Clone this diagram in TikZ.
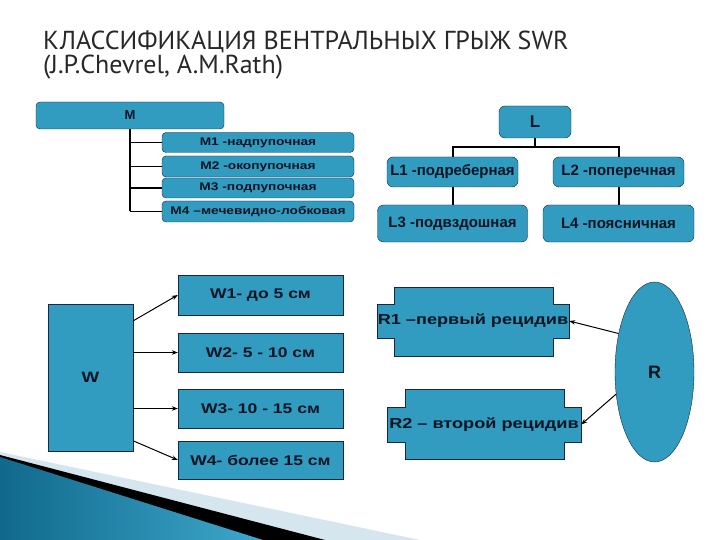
\documentclass[tikz,border=0pt]{standalone}
\usepackage{fontspec}
\setmainfont{Liberation Sans}
\newfontfamily\titlefont{PT Sans}
\newfontfamily\widefont{Liberation Sans}[FakeStretch=1.25]
\usetikzlibrary{shapes.geometric,arrows.meta}
\definecolor{boxblue}{RGB}{50,155,192}
\definecolor{boxline}{RGB}{20,40,70}
\definecolor{inktext}{RGB}{10,20,35}
\definecolor{titlegray}{RGB}{40,40,40}
\definecolor{swooshpale}{RGB}{214,230,238}
\definecolor{swooshdark}{RGB}{16,105,140}
\definecolor{swooshlight}{RGB}{62,168,204}

\begin{document}
\begin{tikzpicture}[x=1pt,y=-1pt,
      mbox/.style={draw=boxline, fill=boxblue, rounded corners=4pt, text=inktext, inner sep=0pt,
        font=\widefont\bfseries\fontsize{11}{11}\selectfont},
      lbox/.style={draw=boxline, fill=boxblue, rounded corners=6pt, text=inktext, inner sep=0pt,
        font=\bfseries\fontsize{15}{15}\selectfont},
      wbox/.style={draw=boxline, fill=boxblue, text=inktext, inner sep=0pt,
        minimum width=165pt, font=\widefont\bfseries\fontsize{14}{14}\selectfont},
      rshape/.style={draw=boxline, fill=boxblue},
      rlabel/.style={text=inktext, inner sep=0pt, font=\widefont\bfseries\fontsize{14.5}{14.5}\selectfont},
      tree/.style={line width=1.5pt, black},
      arr/.style={-{Stealth[length=6pt,width=4.5pt]}, line width=1pt, black}
    ]
    \useasboundingbox (0,0) rectangle (720,540);
    \fill[white] (0,0) rectangle (720,540);

    % slide decoration, lower left
    \fill[swooshpale] (0,452) -- (420,540) -- (0,540) -- cycle;
    \fill[black] (0,455) -- (325,540) -- (0,540) -- cycle;
    \shade[left color=swooshdark, right color=swooshlight] (0,457) -- (263,540) -- (0,540) -- cycle;

    % title
    \node[anchor=base west, inner sep=0pt, text=titlegray, font=\titlefont\fontsize{26}{26}\selectfont] (title1) at (43,50) {КЛАССИФИКАЦИЯ ВЕНТРАЛЬНЫХ ГРЫЖ SWR};
    \node[anchor=base west, inner sep=0pt, text=titlegray, font=\titlefont\fontsize{26}{26}\selectfont] (title2) at (43,74) {(J.P.Chevrel, A.M.Rath)};

    % M group
    \node[mbox, minimum width=188pt, minimum height=27pt, font=\bfseries\fontsize{13}{13}\selectfont] (M) at (130,115.5) {M};
    \node[mbox, minimum width=192pt, minimum height=20pt] (M1) at (258,142.5) {M1 -надпупочная};
    \node[mbox, minimum width=192pt, minimum height=21pt] (M2) at (258,166.5) {M2 -окопупочная};
    \node[mbox, minimum width=192pt, minimum height=20pt] (M3) at (258,188) {M3 -подпупочная};
    \node[mbox, minimum width=192pt, minimum height=21pt] (M4) at (258,211.5) {M4 –мечевидно-лобковая};

    \draw[tree] (M.south) -- (M.south |- M4.west);
    \draw[tree] (M.south |- M1.west) -- (M1.west);
    \draw[tree] (M.south |- M2.west) -- (M2.west);
    \draw[tree] (M.south |- M3.west) -- (M3.west);
    \draw[tree] (M.south |- M4.west) -- (M4.west);

    % L group
    \node[lbox, minimum width=72pt, minimum height=32pt, font=\bfseries\fontsize{17}{17}\selectfont] (L) at (535,122) {L};
    \node[lbox, minimum width=131pt, minimum height=30pt] (L1) at (452.5,172) {L1 -подреберная};
    \node[lbox, minimum width=131pt, minimum height=30pt] (L2) at (618.5,172) {L2 -поперечная};
    \node[lbox, minimum width=150pt, minimum height=37pt] (L3) at (452.5,223.5) {L3 -подвздошная};
    \node[lbox, minimum width=151pt, minimum height=37pt] (L4) at (618.5,223.5) {L4 -поясничная};

    \draw[tree, line width=2pt] (L.south) -- ++(0,9) -| (L1.north);
    \draw[tree, line width=2pt] (L.south) -- ++(0,9) -| (L2.north);
    \draw[tree, line width=2pt] (L1) -- (L3);
    \draw[tree, line width=2pt] (L2) -- (L4);

    % W group
    \node[wbox, minimum width=85pt, minimum height=147pt, font=\widefont\bfseries\fontsize{15}{15}\selectfont] (W) at (90.5,377.5) {W};
    \node[wbox, minimum height=40pt] (W1) at (260.5,295) {W1- до 5 см};
    \node[wbox, minimum height=39pt] (W2) at (260.5,352.5) {W2- 5 - 10 см};
    \node[wbox, minimum height=39pt] (W3) at (260.5,408.5) {W3- 10 - 15 см};
    \node[wbox, minimum height=38pt] (W4) at (260.5,460) {W4- более 15 см};

    \draw[arr] (W.53) -- (W1.west);
    \draw[arr] (W.east |- W2.west) -- (W2.west);
    \draw[arr] (W.east |- W3.west) -- (W3.west);
    \draw[arr] (W.-56) -- (W4.west);

    % R group
    \draw[rshape] (394,287) -- (553,287) -- (553,304) -- (569,304) -- (569,338) -- (553,338) -- (553,356)
      -- (394,356) -- (394,338) -- (377,338) -- (377,304) -- (394,304) -- cycle;
    \draw[rshape] (405,389) -- (564,389) -- (564,407) -- (581,407) -- (581,442) -- (564,442) -- (564,459)
      -- (405,459) -- (405,442) -- (387,442) -- (387,407) -- (405,407) -- cycle;
    \node[rlabel, minimum width=192pt, minimum height=34pt] (R1) at (473,321) {R1 –первый рецидив};
    \node[rlabel, minimum width=194pt, minimum height=35pt] (R2) at (484,424.5) {R2 – второй рецидив};
    \node[ellipse, draw=boxline, fill=boxblue, inner sep=0pt, minimum width=79pt, minimum height=180pt,
      text=inktext, font=\bfseries\fontsize{18}{18}\selectfont] (R) at (654.5,372) {R};

    \draw[arr] (R.133) -- (R1.east);
    \draw[arr] (R.210) -- (R2.east);

\end{tikzpicture}
\end{document}
